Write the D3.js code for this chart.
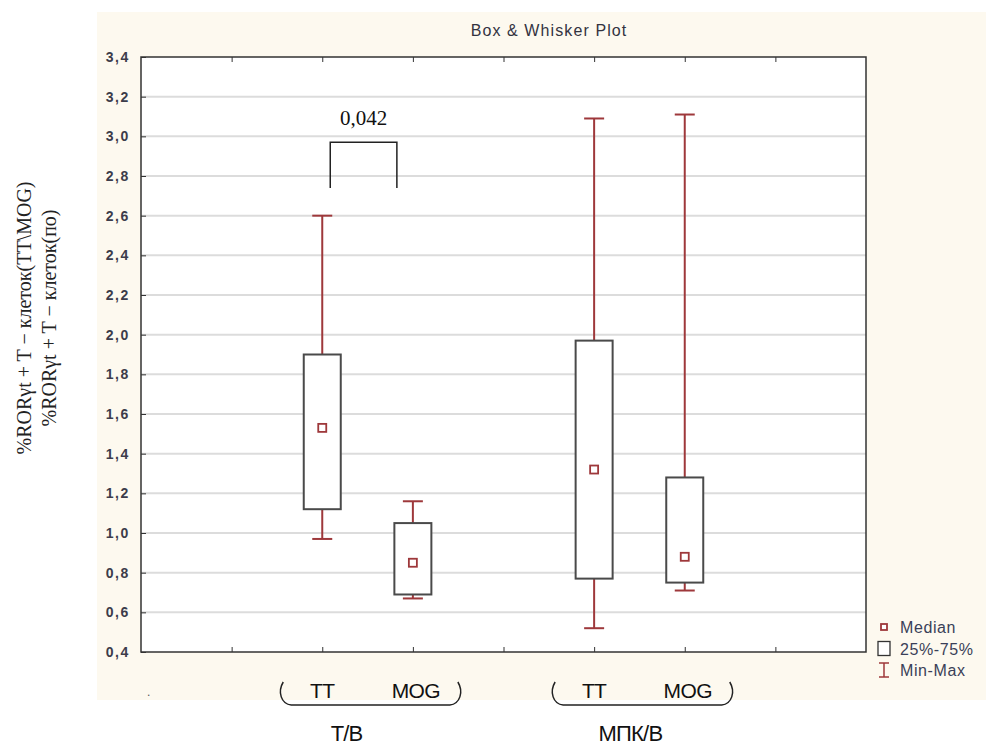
<!DOCTYPE html>
<html>
<head>
<meta charset="utf-8">
<script src="https://cdn.jsdelivr.net/npm/d3@7"></script>
<style>
  body { margin: 0; background: #fff; }
  svg { display: block; }
</style>
</head>
<body>
<svg id="chart" width="986" height="747"></svg>
<script>
// category slots on the x axis (Statistica leaves empty columns between groups)
const slots = ['', 'e1', 'TT_TB', 'MOG_TB', 'e4', 'TT_MPK', 'MOG_MPK', 'e7', ' '];
const tickSlots = ['e1', 'TT_TB', 'MOG_TB', 'e4', 'TT_MPK', 'MOG_MPK', 'e7'];
const boxKeys = ['TT_TB', 'MOG_TB', 'TT_MPK', 'MOG_MPK'];
const boxNames = ['TT', 'MOG', 'TT', 'MOG'];
const groupNames = ['Т/В', 'МПК/В'];
const groupMembers = [['TT_TB', 'MOG_TB'], ['TT_MPK', 'MOG_MPK']];

const mins = [0.97, 0.67, 0.52, 0.71];
const q1s = [1.12, 0.69, 0.77, 0.75];
const medians = [1.53, 0.85, 1.32, 0.88];
const q3s = [1.90, 1.05, 1.97, 1.28];
const maxs = [2.60, 1.16, 3.09, 3.11];

const yTicks = [0.4, 0.6, 0.8, 1.0, 1.2, 1.4, 1.6, 1.8, 2.0, 2.2, 2.4, 2.6, 2.8, 3.0, 3.2, 3.4];
const pValue = '0,042';
const bracketLevels = [2.97, 2.74]; // top, bottom of the bracket
const legendItems = ['Median', '25%-75%', 'Min-Max'];

const yLabelLines = ['%RORγt + T − клеток(TT\\MOG)', '%RORγt + T − клеток(по)'];

const svg = d3.select('#chart');
const margin = { left: 141, right: 866, top: 57, bottom: 652 };

const whiskerColour = '#9e383b';
const boxColour = '#4a4a4a';
const statFont = 'Arial, "Liberation Sans", sans-serif';

// cream panel like the Statistica graph window
svg.append('rect')
  .attr('x', 97).attr('y', 12)
  .attr('width', 889).attr('height', 688)
  .attr('fill', '#fdf9ef');

svg.append('text')
  .attr('x', 549).attr('y', 36)
  .attr('text-anchor', 'middle')
  .style('font-family', statFont)
  .style('font-size', '16px')
  .style('letter-spacing', '1.1px')
  .style('font-weight', '500')
  .attr('fill', '#33333f')
  .text('Box & Whisker Plot');

const x = d3.scalePoint()
  .domain(slots)
  .range([margin.left, margin.right]);

const y = d3.scaleLinear()
  .domain([0.4, 3.4])
  .range([margin.bottom, margin.top]);

const fmt = d3.formatLocale({ decimal: ',', thousands: ' ', grouping: [3], currency: ['', ''] }).format('.1f');

// plot area
svg.append('rect')
  .attr('x', margin.left).attr('y', margin.top)
  .attr('width', margin.right - margin.left)
  .attr('height', margin.bottom - margin.top)
  .attr('fill', '#fff');

// grid
svg.append('g')
  .selectAll('line')
  .data(yTicks.slice(1, -1))
  .enter().append('line')
  .attr('x1', margin.left).attr('x2', margin.right)
  .attr('y1', d => y(d)).attr('y2', d => y(d))
  .style('stroke', '#dcdcdc')
  .style('stroke-width', 2);

// y axis
const yAxis = svg.append('g')
  .attr('transform', 'translate(' + margin.left + ',0)')
  .call(d3.axisLeft(y).tickValues(yTicks).tickFormat(fmt).tickSize(-5).tickPadding(11));
yAxis.select('.domain').remove();
yAxis.selectAll('line').style('stroke', '#333');
yAxis.selectAll('text')
  .style('font-family', statFont)
  .style('font-size', '14px')
  .style('font-weight', '600')
  .style('letter-spacing', '1.6px')
  .attr('fill', '#3c3c4a');

// bottom ticks (inside) and top ticks (inside)
const xAxis = svg.append('g')
  .attr('transform', 'translate(0,' + margin.bottom + ')')
  .call(d3.axisBottom(x).tickValues(tickSlots).tickSize(-5).tickFormat(''));
xAxis.select('.domain').remove();
xAxis.selectAll('line').style('stroke', '#333');

const xAxisTop = svg.append('g')
  .attr('transform', 'translate(0,' + margin.top + ')')
  .call(d3.axisTop(x).tickValues(tickSlots).tickSize(-5).tickFormat(''));
xAxisTop.select('.domain').remove();
xAxisTop.selectAll('line').style('stroke', '#333');

svg.append('rect')
  .attr('x', margin.left).attr('y', margin.top)
  .attr('width', margin.right - margin.left)
  .attr('height', margin.bottom - margin.top)
  .attr('fill', 'none')
  .style('stroke', '#333')
  .style('stroke-width', 1.5);

// boxes
const boxes = boxKeys.map((k, i) => ({
  key: k, min: mins[i], q1: q1s[i], median: medians[i], q3: q3s[i], max: maxs[i]
}));

const boxW = 37;
const capW = 20;
const box = svg.append('g')
  .selectAll('g')
  .data(boxes)
  .enter().append('g');

box.append('line')
  .attr('x1', d => x(d.key)).attr('x2', d => x(d.key))
  .attr('y1', d => y(d.max)).attr('y2', d => y(d.min))
  .style('stroke', whiskerColour)
  .style('stroke-width', 2);

box.selectAll('line.cap')
  .data(d => [{ key: d.key, v: d.max }, { key: d.key, v: d.min }])
  .enter().append('line')
  .attr('class', 'cap')
  .attr('x1', d => x(d.key) - capW / 2).attr('x2', d => x(d.key) + capW / 2)
  .attr('y1', d => y(d.v)).attr('y2', d => y(d.v))
  .style('stroke', whiskerColour)
  .style('stroke-width', 2);

box.append('rect')
  .attr('x', d => x(d.key) - boxW / 2)
  .attr('y', d => y(d.q3))
  .attr('width', boxW)
  .attr('height', d => y(d.q1) - y(d.q3))
  .attr('fill', '#fff')
  .style('stroke', boxColour)
  .style('stroke-width', 2);

box.append('rect')
  .attr('x', d => x(d.key) - 4)
  .attr('y', d => y(d.median) - 4)
  .attr('width', 8).attr('height', 8)
  .attr('fill', '#fff')
  .style('stroke', whiskerColour)
  .style('stroke-width', 1.8);

// significance bracket between TT and MOG of the first group
const bx1 = x('TT_TB') + 8;
const bx2 = x('MOG_TB') - 16;
svg.append('path')
  .attr('d', 'M' + bx1 + ',' + y(bracketLevels[1]) + 'V' + y(bracketLevels[0]) +
    'H' + bx2 + 'V' + y(bracketLevels[1]))
  .attr('fill', 'none')
  .style('stroke', '#222')
  .style('stroke-width', 1.5);

svg.append('text')
  .attr('x', (bx1 + bx2) / 2).attr('y', y(bracketLevels[0]) - 17)
  .attr('text-anchor', 'middle')
  .style('font-family', '"Liberation Serif", "Times New Roman", serif')
  .style('font-size', '21px')
  .attr('fill', '#111')
  .text(pValue);

// legend
const legend = svg.append('g').attr('transform', 'translate(884,627)');
const lg = legend.selectAll('g')
  .data(legendItems)
  .enter().append('g')
  .attr('transform', (d, i) => 'translate(0,' + i * 21.5 + ')');

lg.filter((d, i) => i === 0).append('rect')
  .attr('x', -3).attr('y', -3).attr('width', 6).attr('height', 6)
  .attr('fill', '#fff')
  .style('stroke', whiskerColour).style('stroke-width', 1.8);
lg.filter((d, i) => i === 1).append('rect')
  .attr('x', -6).attr('y', -7).attr('width', 12).attr('height', 14)
  .attr('fill', '#fff')
  .style('stroke', '#333').style('stroke-width', 1.3);
lg.filter((d, i) => i === 2).append('path')
  .attr('d', 'M-5,-7H5M0,-7V7M-5,7H5')
  .attr('fill', 'none')
  .style('stroke', whiskerColour).style('stroke-width', 1.5);

lg.append('text')
  .attr('x', 16).attr('y', 6)
  .style('font-family', statFont)
  .style('font-size', '16px')
  .style('letter-spacing', '0.6px')
  .attr('fill', '#3a3f58')
  .text(d => d);

// y axis title (two rotated lines)
svg.append('g')
  .attr('transform', 'translate(31,318) rotate(-90)')
  .selectAll('text')
  .data(yLabelLines)
  .enter().append('text')
  .attr('x', 0).attr('y', (d, i) => i * 25)
  .attr('text-anchor', 'middle')
  .style('font-family', '"Liberation Serif", "DejaVu Serif", serif')
  .style('font-size', '20px')
  .attr('fill', '#222')
  .text(d => d);

// category labels under the axis
const labelFont = '"Liberation Sans", Arial, sans-serif';
svg.append('g')
  .selectAll('text')
  .data(boxes)
  .enter().append('text')
  .attr('x', (d, i) => x(d.key) + (boxNames[i] === 'TT' ? 0 : 3))
  .attr('y', 698)
  .attr('text-anchor', 'middle')
  .style('font-family', labelFont)
  .style('font-size', '21px')
  .style('letter-spacing', '-0.6px')
  .attr('fill', '#111')
  .text((d, i) => boxNames[i]);

svg.append('text')
  .attr('x', 147).attr('y', 696)
  .style('font-family', labelFont)
  .style('font-size', '12px')
  .attr('fill', '#555')
  .text('.');

// curly braces under each group
const braces = svg.append('g')
  .selectAll('g')
  .data(groupMembers)
  .enter().append('g');

braces.append('path')
  .attr('d', d => {
    const a = x(d[0]) - 43;
    const b = x(d[1]) + 49;
    return 'M' + (a + 4) + ',682 C' + (a - 2) + ',692 ' + (a + 2) + ',704 ' + (a + 12) + ',705' +
      ' H' + (b - 12) +
      ' C' + (b - 2) + ',704 ' + (b + 2) + ',692 ' + (b - 4) + ',682';
  })
  .attr('fill', 'none')
  .style('stroke', '#222')
  .style('stroke-width', 1.5);

braces.append('text')
  .attr('x', (d, i) => (x(d[0]) + x(d[1])) / 2 + (i === 0 ? -21 : -9))
  .attr('y', 741)
  .attr('text-anchor', 'middle')
  .style('font-family', labelFont)
  .style('font-size', '22px')
  .style('letter-spacing', '-0.8px')
  .attr('fill', '#111')
  .text((d, i) => groupNames[i]);
</script>
</body>
</html>
